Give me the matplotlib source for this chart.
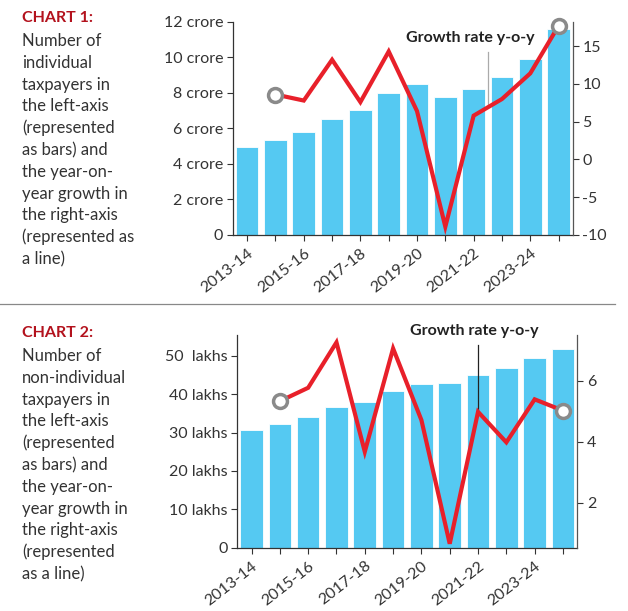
import matplotlib
matplotlib.use('Agg')
import matplotlib.pyplot as plt
import numpy as np

plt.rcParams['font.family'] = ['Lato', 'DejaVu Sans']
plt.rcParams['axes.unicode_minus'] = False

# data
years = ['2013-14', '2014-15', '2015-16', '2016-17', '2017-18', '2018-19',
         '2019-20', '2020-21', '2021-22', '2022-23', '2023-24', '2024-25']
ind_taxpayers = [4.95, 5.37, 5.78, 6.55, 7.02, 8.00, 8.53, 7.78, 8.23, 8.89, 9.89, 11.58]  # crore
ind_growth = [np.nan, 8.6, 7.8, 13.2, 7.6, 14.3, 6.4, -8.9, 5.8, 8.0, 11.4, 17.7]
nonind_taxpayers = [30.6, 32.2, 34.1, 36.6, 38.0, 40.7, 42.6, 42.9, 45.0, 46.8, 49.3, 51.8]  # lakhs
nonind_growth = [np.nan, 5.33, 5.77, 7.26, 3.67, 7.06, 4.71, 0.65, 4.98, 3.98, 5.39, 5.02]

left_ticks1 = [0, 2, 4, 6, 8, 10, 12]
left_labels1 = ['0', '2 crore', '4 crore', '6 crore', '8 crore', '10 crore', '12 crore']
right_ticks1 = [-10, -5, 0, 5, 10, 15]
left_ticks2 = [0, 10, 20, 30, 40, 50]
left_labels2 = ['0', '10 lakhs', '20 lakhs', '30 lakhs', '40 lakhs', '50  lakhs']
right_ticks2 = [2, 4, 6]

text1 = ['Number of', 'individual', 'taxpayers in', 'the left-axis', '(represented',
         'as bars) and', 'the year-on-', 'year growth in', 'the right-axis',
         '(represented as', 'a line)']
text2 = ['Number of', 'non-individual', 'taxpayers in', 'the left-axis', '(represented',
         'as bars) and', 'the year-on-', 'year growth in', 'the right-axis',
         '(represented', 'as a line)']

BAR = '#55c9f2'
RED = '#e8202a'
DARK = '#333333'

fig = plt.figure(figsize=(6.28, 6.11), dpi=100)


def draw(rect, bars, growth, lticks, llabels, ylim, rticks, rlim,
         pointer_x, pointer_top, pointer_col, label_xy):
    ax = fig.add_axes(rect)
    x = np.arange(len(years))
    ax.bar(x, bars, width=0.8, color=BAR, edgecolor='white', linewidth=0.6, zorder=2)
    ax.set_xlim(-0.5, len(years) - 0.5)
    ax.set_ylim(*ylim)
    ax.set_yticks(lticks)
    ax.set_yticklabels(llabels)
    ax.set_xticks(x)
    ax.set_xticklabels([y if i % 2 == 0 else '' for i, y in enumerate(years)],
                       rotation=38, ha='right', rotation_mode='anchor')
    ax.tick_params(axis='both', direction='out', length=4, width=0.8,
                   colors=DARK, labelsize=11.5, pad=3)
    ax.tick_params(axis='x', labelsize=11.5, pad=4)
    ax.spines['top'].set_visible(False)
    ax.spines['right'].set_visible(False)
    for s in ['left', 'bottom']:
        ax.spines[s].set_color(DARK)
        ax.spines[s].set_linewidth(0.9)

    ax2 = ax.twinx()
    ax2.plot(x[1:], growth[1:], color=RED, lw=3, zorder=3, solid_joinstyle='miter',
             marker='o', markevery=[0, len(x) - 2], ms=10, mfc='white',
             mec='#8a8a8a', mew=2.5, clip_on=False)
    ax2.set_ylim(*rlim)
    ax2.set_yticks(rticks)
    ax2.tick_params(axis='y', direction='out', length=4, width=0.8,
                    colors=DARK, labelsize=11.5, pad=3)
    ax2.spines['top'].set_visible(False)
    ax2.spines['left'].set_visible(False)
    ax2.spines['bottom'].set_visible(False)
    ax2.spines['right'].set_color('#555555')
    ax2.spines['right'].set_linewidth(0.9)

    # pointer from label to the line
    lo = int(np.floor(pointer_x))
    hi = int(np.ceil(pointer_x))
    y_on_line = np.interp(pointer_x, [lo, hi], [growth[lo], growth[hi]])
    ax2.plot([pointer_x, pointer_x], [pointer_top, y_on_line], color=pointer_col,
             lw=0.9, zorder=2.5, clip_on=False)
    ax2.text(label_xy[0], label_xy[1], 'Growth rate y-o-y', ha='center', va='center',
             fontsize=11.5, fontweight='bold', color='#222222', clip_on=False, zorder=5)
    return ax, ax2


draw([0.371, 0.6154, 0.541, 0.3486], ind_taxpayers, ind_growth,
     left_ticks1, left_labels1, (0, 12), right_ticks1, (-10, 18.2),
     8.5, 14.2, '#aaaaaa', (7.88, 16.1))

draw([0.378, 0.1036, 0.541, 0.348], nonind_taxpayers, nonind_growth,
     left_ticks2, left_labels2, (0, 55.4), right_ticks2, (0.52, 7.5),
     8.0, 7.17, '#222222', (7.88, 7.63))

# side text
TX = 22 / 628
fig.text(TX, 1 - 18 / 611, 'CHART 1:', color='#b3121d', fontsize=11.5,
         fontweight='bold', va='center', ha='left')
for i, line in enumerate(text1):
    fig.text(TX, 1 - (41 + i * 21.8) / 611, line, color=DARK, fontsize=12,
             va='center', ha='left')

fig.text(TX, 1 - 333 / 611, 'CHART 2:', color='#b3121d', fontsize=11.5,
         fontweight='bold', va='center', ha='left')
for i, line in enumerate(text2):
    fig.text(TX, 1 - (356 + i * 21.8) / 611, line, color=DARK, fontsize=12,
             va='center', ha='left')

# separator
fig.add_artist(plt.Line2D([0, 615 / 628], [1 - 304 / 611, 1 - 304 / 611],
                          color='#888888', lw=0.9, transform=fig.transFigure))

fig.savefig('out.png', dpi=100)
